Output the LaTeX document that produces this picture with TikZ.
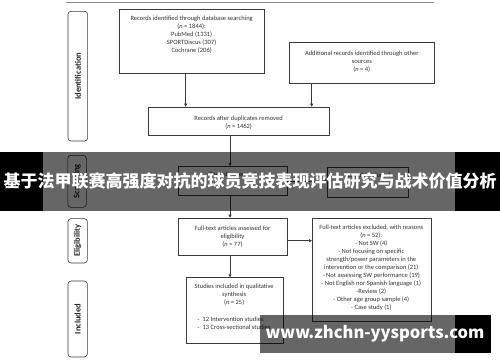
\documentclass[tikz,border=0pt]{standalone}
\usepackage{fontspec}
\setmainfont{Carlito}
\newfontfamily\cjk{Noto Sans CJK SC}
\usetikzlibrary{arrows.meta}
\definecolor{linec}{HTML}{3A3A3A}
\definecolor{rulec}{HTML}{8A8A8A}
\begin{document}
\begin{tikzpicture}[x=1pt,y=-1pt,
  box/.style={draw=linec, line width=0.6pt, fill=white, inner sep=0pt, anchor=north west},
  side/.style={draw=linec, line width=0.6pt, rounded corners=3pt, inner sep=0pt, anchor=north west},
  sidetxt/.style={rotate=90, font=\bfseries\fontsize{8.5}{9}\selectfont, text=black!85},
  txt/.style={font=\fontsize{6.5}{8}\selectfont, align=center, inner sep=0pt, text=black!80},
  arr/.style={draw=linec, line width=0.6pt, -{Triangle[length=3pt,width=3pt]}}]
\useasboundingbox (0,0) rectangle (500,362);
\fill[white] (0,0) rectangle (500,362);
% top rule
\draw[rulec, line width=0.6pt] (66,2.7) -- (434,2.7);
% side labels
\node[side, minimum width=19.6pt, minimum height=129.7pt] (ident) at (67.7,11) {};
\node[sidetxt] (identt) at (ident.center) {Identification};
\node[side, minimum width=18.5pt, minimum height=52pt] (scrn) at (67.5,155) {};
\node[sidetxt] (scrnt) at (scrn.center) {Screening};
\node[side, minimum width=19.3pt, minimum height=44.4pt] (elig) at (67.7,218.3) {};
\node[sidetxt] (eligt) at (elig.center) {Eligibility};
\node[side, minimum width=19.3pt, minimum height=76pt] (incl) at (67.7,280.7) {};
\node[sidetxt] (inclt) at (incl.center) {Included};
% boxes
\node[box, minimum width=144.7pt, minimum height=64.3pt] (id) at (119.3,9) {};
\node[box, minimum width=145pt, minimum height=40.7pt] (add) at (289.3,42.3) {};
\node[box, minimum width=180.7pt, minimum height=28.3pt] (dup) at (148.3,106.7) {};
\node[box, minimum width=108.4pt, minimum height=29pt] (scr) at (178.3,166) {};
\node[box, minimum width=81.6pt, minimum height=30pt] (exc) at (326.7,166.7) {};
\node[box, minimum width=108.4pt, minimum height=37.3pt] (fta) at (178.3,217.7) {};
\node[box, minimum width=118.7pt, minimum height=102.4pt] (fte) at (312,218.3) {};
\node[box, minimum width=97pt, minimum height=65.4pt] (inc) at (185.7,277.3) {};
% texts
\node[txt, anchor=north] (idt) at (191.65,15.6) {Records identified through database searching\\(\textit{n} = 1844):\\PubMed (1331)\\SPORTDiscus (307)\\Cochrane (206)};
\node[txt] (addt) at (361.8,61.5) {Additional records identified through other\\sources\\(\textit{n} = 4)};
\node[txt] (dupt) at (238.6,122.2) {Records after duplicates removed\\(\textit{n} = 1462)};
\node[txt] (scrt) at (232.5,174.5) {Records screened};
\node[txt] (exct) at (367.5,175) {Records excluded};
\node[txt] (ftat) at (232.5,236.6) {Full-text articles assessed for\\eligibility\\(\textit{n} = 77)};
\node[txt, anchor=north] (ftet) at (371.3,224.8) {Full-text articles excluded, with reasons\\(\textit{n} = 52):\\- Not SW (4)\\- Not focusing on specific\\strength/power parameters in the\\intervention or the comparison (21)\\- Not assessing SW performance (19)\\- Not English nor Spanish language (1)\\-Review (2)\\- Other age group sample (4)\\- Case study (1)};
\node[txt, anchor=north] (inct) at (234.2,283.9) {Studies included in qualitative\\synthesis\\(\textit{n} = 25)};
\node[txt, anchor=north west, align=left] (incl2) at (197.5,316.5) {-\hspace{3pt}12 Intervention studies\\-\hspace{3pt}13 Cross-sectional studies};
% arrows
\draw[arr] (id.south -| 185.7,0) -- (dup.north -| 185.7,0);
\draw[arr] (add.south -| 311.7,0) -- (dup.north -| 311.7,0);
\draw[arr] (dup.south -| 230,0) -- (scr.north -| 230,0);
\draw[arr] (scr.east) -- (exc.west |- scr.east);
\draw[arr] (scr.south -| 230,0) -- (fta.north -| 230,0);
\draw[arr] (fta.east |- 0,240.7) -- (fte.west |- 0,240.7);
\draw[arr] (fta.south -| 230,0) -- (inc.north -| 230,0);
% banner overlay
\fill[black, opacity=0.6] (43,152) rectangle (455,211);
\fill[black] (0,152) rectangle (43,211);
\fill[black] (455,152) rectangle (500,211);
\node[text=white, inner sep=0pt, font=\cjk\bfseries\fontsize{17}{17}\selectfont] (banner) at (250,181) {基于法甲联赛高强度对抗的球员竞技表现评估研究与战术价值分析};
% watermark
\fill[black, opacity=0.6] (260,315) rectangle (455,352.7);
\fill[black] (455,315) rectangle (490.7,352.7);
\node[text=white, inner sep=0pt, font=\cjk\bfseries\fontsize{16.5}{17}\selectfont] (wm) at (375,334) {www.zhchn-yysports.com};
\end{tikzpicture}
\end{document}
